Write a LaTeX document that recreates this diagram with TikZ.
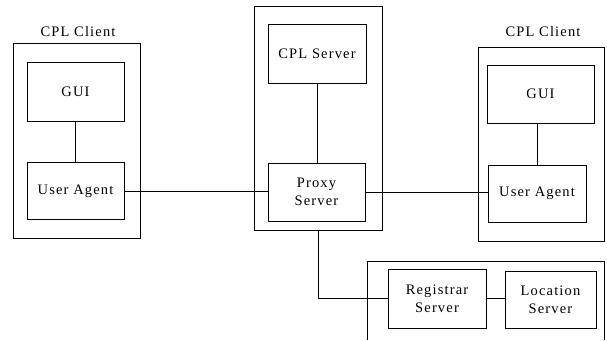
\documentclass[tikz,border=0pt]{standalone}
\usepackage{fontspec}
\setmainfont[LetterSpace=8]{Liberation Serif}
\begin{document}
\begin{tikzpicture}[x=1pt,y=-1pt,
  box/.style={draw,line width=0.9pt,inner sep=0pt,align=center,font=\fontsize{14.5}{18}\selectfont},
  grp/.style={draw,line width=0.9pt,inner sep=0pt},
  ttl/.style={font=\fontsize{14.5}{17}\selectfont,inner sep=0pt},
  conn/.style={line width=0.9pt}]
\useasboundingbox (0,0) rectangle (607,340);
% left client
\node[grp,minimum width=127pt,minimum height=195pt] (lc) at (76.5,140.5) {};
\node[ttl] (lct) at (78,32) {CPL Client};
\node[box,minimum width=97pt,minimum height=59pt] (lgui) at (75.5,91.5) {GUI};
\node[box,minimum width=97pt,minimum height=57pt] (lua) at (75.5,191) {User Agent};
% middle
\node[grp,minimum width=128pt,minimum height=224pt] (mid) at (318,118) {};
\node[box,minimum width=98pt,minimum height=59pt] (cps) at (317,53.5) {CPL Server};
\node[box,minimum width=97pt,minimum height=58pt] (proxy) at (316.5,192) {Proxy\\Server};
% right client
\node[grp,minimum width=126pt,minimum height=194pt] (rc) at (541,144) {};
\node[ttl] (rct) at (543,32) {CPL Client};
\node[box,minimum width=107pt,minimum height=58pt] (rgui) at (540.5,94) {GUI};
\node[box,minimum width=98pt,minimum height=57pt] (rua) at (537,193.5) {User Agent};
% bottom group (cut off)
\coordinate (bl) at (367,340);
\coordinate (tl) at (367,261);
\coordinate (tr) at (604,261);
\coordinate (br) at (604,340);
\draw[conn] (bl) -- (tl) -- (tr) -- (br);
\node[box,minimum width=98pt,minimum height=59pt] (reg) at (437,298.5) {Registrar\\Server};
\node[box,minimum width=91pt,minimum height=57pt] (loc) at (550.5,299.5) {Location\\Server};
% connectors
\draw[conn] (lgui.south) -- (lua.north);
\draw[conn] (cps.south) -- (cps.south |- proxy.north);
\draw[conn] (rgui.south -| rua.north) -- (rua.north);
\draw[conn] (lua.east) -- (lua.east -| proxy.west);
\draw[conn] (proxy.east) -- (proxy.east -| rua.west);
\draw[conn] (mid.south) |- (reg.west);
\draw[conn] (reg.east) -- (reg.east -| loc.west);
\end{tikzpicture}
\end{document}
